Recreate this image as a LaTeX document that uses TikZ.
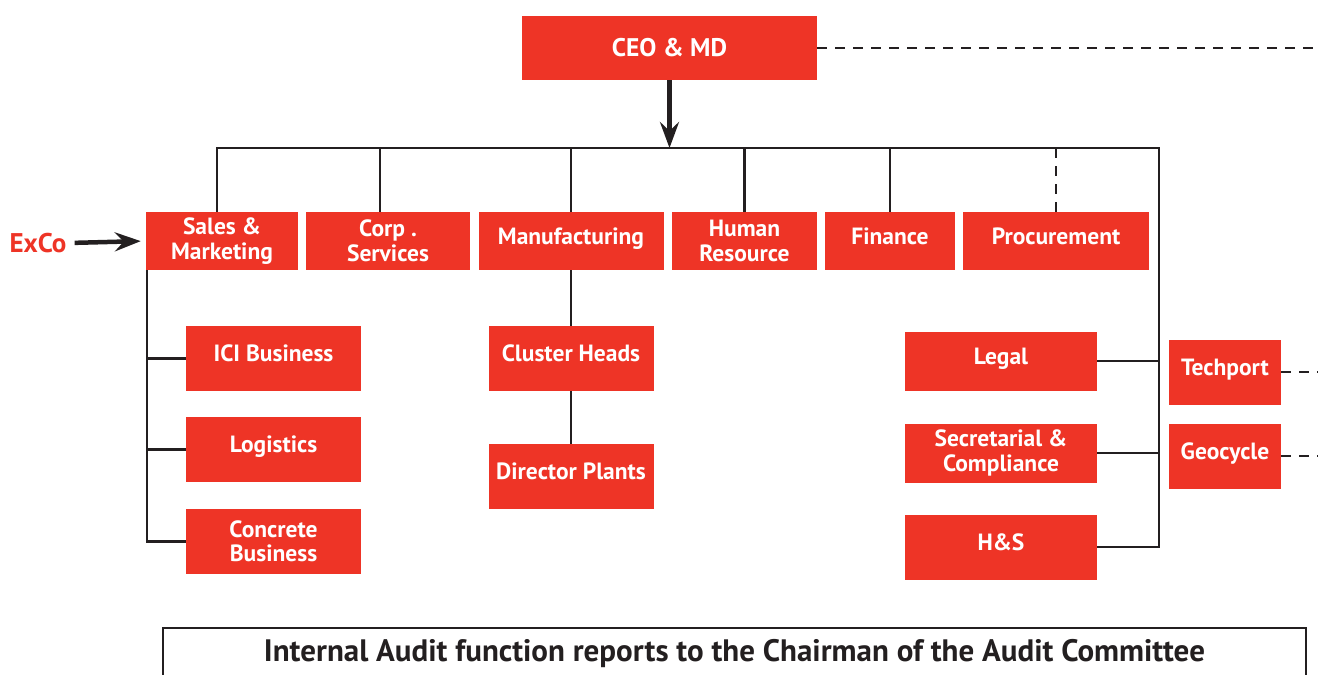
\documentclass[tikz,border=0pt]{standalone}
\usepackage{fontspec}
\setmainfont{PT Sans}
\usetikzlibrary{arrows.meta,positioning,calc}
\definecolor{brick}{RGB}{238,52,38}
\definecolor{ink}{RGB}{35,31,32}
\tikzset{
  unit/.style={fill=brick,text=white,inner sep=0pt,align=center,
    font=\fontsize{23.5}{24.5}\selectfont\bfseries,minimum width=#1},
  unit/.default=150pt,
  oneline/.style={text height=16.5pt,text depth=10pt},
  link/.style={draw=ink,line width=2.4pt},
  dotted link/.style={draw=ink,line width=2.8pt,dash pattern=on 10pt off 8pt},
  push/.style={draw=ink,line width=4.5pt,
    -{Stealth[length=26pt,width=19pt,inset=9pt]}},
}

\begin{document}
\begin{tikzpicture}[x=1pt,y=-1pt]
  \useasboundingbox (0,0) rectangle (1318,675);
  % top of the chart
  \node[unit=295pt,minimum height=64pt,font=\fontsize{25.5}{27}\selectfont\bfseries] (ceo) at (669.5,48) {CEO \& MD};
  \coordinate (busL) at (217,148);
  \coordinate (busR) at (1159,148);
  \coordinate (edge) at (1318,48);

  % first row of functions
  \foreach \n/\x/\w/\t in {sales/222/152/{Sales \&\\Marketing},corp/388/164/{Corp .\\Services},
      hr/744.5/145/{Human\\Resource}}
    \node[unit=\w pt,minimum height=58pt] (\n) at (\x,241) {\t};
  \foreach \n/\x/\w/\t in {manuf/571/185/Manufacturing,fin/890/130/Finance,proc/1056/186/Procurement}
    \node[unit=\w pt,minimum height=58pt,oneline] (\n) at (\x,241) {\t};

  % reporting units
  \node[unit=175pt,minimum height=65pt,oneline] (ici) at (273.5,358.5) {ICI Business};
  \node[unit=175pt,minimum height=65pt,oneline] (logi) at (273.5,449.5) {Logistics};
  \node[unit=175pt,minimum height=65pt] (conc) at (273.5,541.5) {Concrete\\Business};
  \node[unit=165pt,minimum height=65pt,oneline] (clus) at (571,358.5) {Cluster Heads};
  \node[unit=165pt,minimum height=65pt,oneline] (dir) at (571,476.5) {Director Plants};
  \node[unit=192pt,minimum height=59pt,oneline] (legal) at (1001,361) {Legal};
  \node[unit=192pt,minimum height=59pt] (sec) at (1001,453) {Secretarial \&\\Compliance};
  \node[unit=192pt,minimum height=65pt,oneline] (hs) at (1001,547) {H\&S};
  \node[unit=112pt,minimum height=65pt,oneline] (tech) at (1225,372) {Techport};
  \node[unit=112pt,minimum height=65pt,oneline] (geo) at (1225,456) {Geocycle};
  \coordinate (techR) at (1318,372);
  \coordinate (geoR) at (1318,456);

  \node[font=\fontsize{27}{29}\selectfont\bfseries,text=brick,inner sep=2pt] (exco) at (38,243) {ExCo};

  % connectors
  \draw[link] ([xshift=-5pt]sales.north) |- (busL) -- (busR) |- (hs.east);
  \draw[link] ([xshift=-8pt]corp.north) -- ([xshift=-8pt]corp.north |- busL);
  \foreach \n in {manuf,hr,fin}
    \draw[link] (\n.north) -- (\n.north |- busL);
  \draw[dotted link] (proc.north) -- (proc.north |- busL);
  \draw[link] ([xshift=1pt]sales.south west) |- (conc.west);
  \foreach \n in {ici,logi}
    \draw[link] (\n.west) -- (\n.west -| sales.south west);
  \foreach \n in {legal,sec}
    \draw[link] (\n.east) -- (\n.east -| busR);
  \draw[link] (manuf.south) -- (clus.north);
  \draw[link] (clus.south) -- (dir.north);
  \draw[dotted link] (ceo.east) -- (edge);
  \draw[dotted link] (tech.east) -- (techR);
  \draw[dotted link] (geo.east) -- (geoR);
  \draw[push] (ceo.south) -- (ceo.south |- busL);
  \draw[push,shorten <=6pt,shorten >=5pt] (exco.east) -- (sales.west);

  % frame runs past the lower edge
  \node[draw=ink,line width=2pt,anchor=north,minimum width=1143pt,minimum height=52pt,
    font=\fontsize{31}{33}\selectfont\bfseries,text=ink] (audit) at (734.5,627)
    {Internal Audit function reports to the Chairman of the Audit Committee};
\end{tikzpicture}
\end{document}
